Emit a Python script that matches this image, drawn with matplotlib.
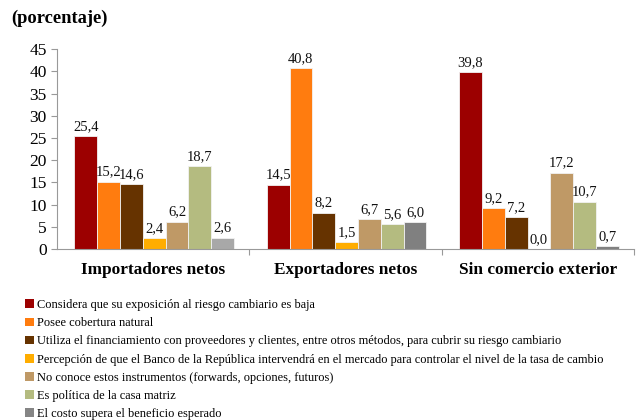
import numpy as np
import matplotlib
matplotlib.use("Agg")
import matplotlib.pyplot as plt
from matplotlib.patches import Patch

plt.rcParams["font.family"] = ["Liberation Serif", "DejaVu Serif"]

groups = ["Importadores netos", "Exportadores netos", "Sin comercio exterior"]
series = [
    "Considera que su exposición al riesgo cambiario es baja",
    "Posee cobertura natural",
    "Utiliza el financiamiento con proveedores y clientes, entre otros métodos, para cubrir su riesgo cambiario",
    "Percepción de que el Banco de la República intervendrá en el mercado para controlar el nivel de la tasa de cambio",
    "No conoce estos instrumentos (forwards, opciones, futuros)",
    "Es política de la casa matriz",
    "El costo supera el beneficio esperado",
]
values = [
    [25.4, 14.5, 39.8],
    [15.2, 40.8, 9.2],
    [14.6, 8.2, 7.2],
    [2.4, 1.5, 0.0],
    [6.2, 6.7, 17.2],
    [18.7, 5.6, 10.7],
    [2.6, 6.0, 0.7],
]
colors = ["#9C0000", "#FF7C0F", "#663300", "#FFAD00", "#BF9966", "#B4BB80", "#858585"]
# the last series is drawn lighter in the first group
last_colors = ["#A8A8A8", "#808080", "#808080"]

fig = plt.figure(figsize=(6.37, 4.2), dpi=100)
ax = fig.add_axes([0.0895, 0.407, 0.906, 0.476])

x = np.arange(len(groups))
n = len(series)
w = 0.83 / n
for i, (vals, col) in enumerate(zip(values, colors)):
    pos = x - 0.41 + w * (i + 0.5)
    cols = last_colors if i == n - 1 else [col] * len(groups)
    ax.bar(pos, vals, width=w, color=cols, edgecolor="#F2F2F2", linewidth=0.6)
    for px, v in zip(pos, vals):
        ax.text(px, v + 0.7, f"{v:.1f}".replace(".", ","), ha="center", va="bottom",
                fontsize=10.5, color="#111111")

ax.set_xlim(-0.5, 2.5)
ax.set_ylim(0, 45)
ax.set_yticks(range(0, 46, 5))
ax.tick_params(axis="y", labelsize=12.5, length=4, color="#999999", direction="out")
ax.set_xticks([0.5, 1.5, 2.5])
ax.set_xticklabels(["", "", ""])
ax.tick_params(axis="x", length=4, color="#999999", direction="out")
for xi, g in zip(x, groups):
    ax.text(xi, -3.0, g, ha="center", va="top", fontsize=12.4, fontweight="bold",
            transform=ax.transData)
for s in ["top", "right"]:
    ax.spines[s].set_visible(False)
for s in ["left", "bottom"]:
    ax.spines[s].set_color("#999999")

fig.text(0.018, 0.957, "(porcentaje)", fontsize=13.3, fontweight="bold", va="center")

handles = [Patch(facecolor=c, edgecolor="none") for c in colors]
fig.legend(handles, series, loc="upper left", bbox_to_anchor=(0.04, 0.288),
           frameon=False, fontsize=8.9, handlelength=0.7, handleheight=0.7,
           handletextpad=0.2, labelspacing=0.5, borderpad=0, borderaxespad=0)

fig.savefig("out.png", dpi=100)
